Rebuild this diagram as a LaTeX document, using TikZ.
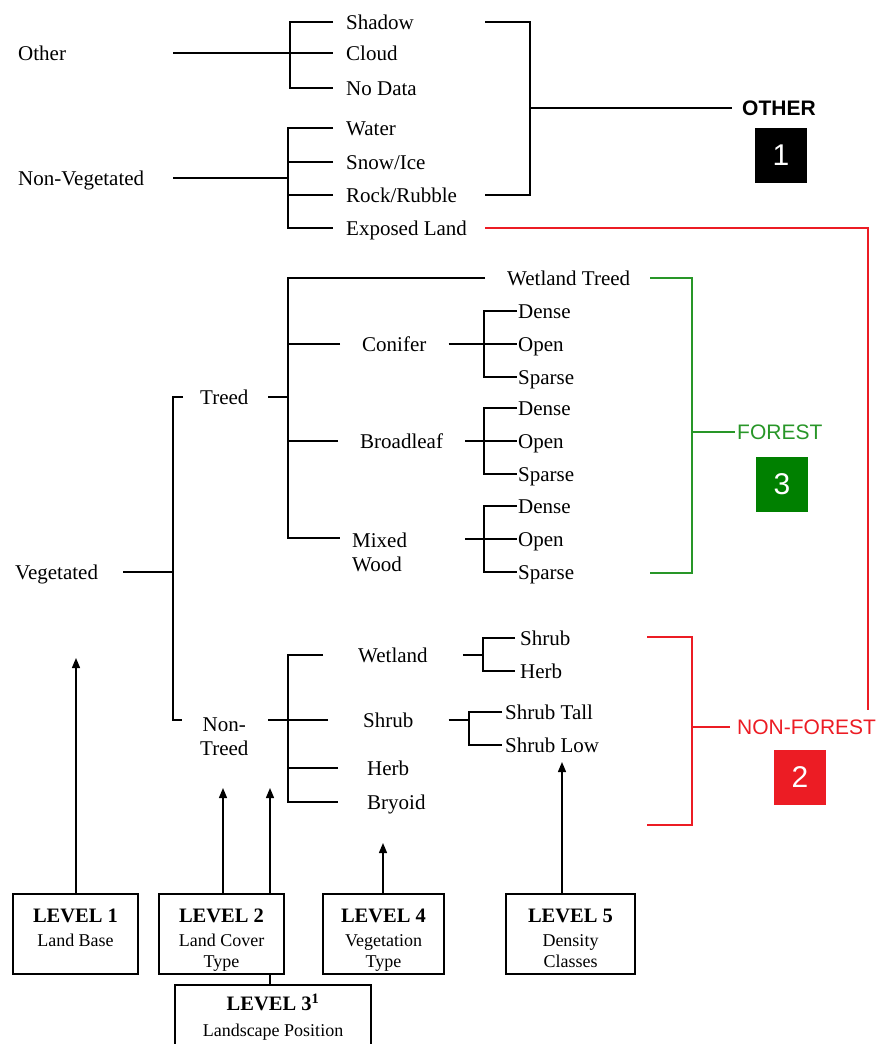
\documentclass[tikz,border=0pt]{standalone}
\usepackage{fontspec}
\setmainfont{Liberation Serif}
\setsansfont{Liberation Sans}
\usetikzlibrary{arrows.meta,calc}
\definecolor{fgreen}{RGB}{0,128,0}
\definecolor{fgreenline}{RGB}{40,150,40}
\definecolor{nfred}{RGB}{236,28,36}
\tikzset{
 branch/.style={line width=1.4pt},
 bigbr/.style={line width=2.8pt},
 grnln/.style={draw=fgreenline,line width=2pt},
 redln/.style={draw=nfred,line width=2pt},
 uparr/.style={line width=1.4pt,-{Triangle[length=10pt,width=8pt]}},
 lbl/.style={anchor=west,inner sep=0,text height=19pt,text depth=5pt,font=\fontsize{21}{24}\selectfont},
 leaf/.style={anchor=west,inner ysep=0,inner xsep=#1,text height=19pt,text depth=5pt,font=\fontsize{21}{24}\selectfont},
 leaf/.default=13pt,
 leaftwo/.style={anchor=west,inner sep=0,font=\fontsize{21}{24}\selectfont},
 cls/.style={anchor=west,inner xsep=#1,inner ysep=9pt,text height=15.5pt,text depth=0pt,font=\sffamily\fontsize{21}{24}\selectfont},
 numbox/.style={fill=#1,text=white,minimum width=52pt,minimum height=55pt,inner sep=0,font=\sffamily\fontsize{30}{30}\selectfont},
 lvbox/.style={draw,line width=1.6pt,anchor=north,inner xsep=3pt,inner ysep=0pt,align=center,font=\fontsize{18}{21}\selectfont}
}
\begin{document}
\begin{tikzpicture}[x=1pt,y=-1pt]
\path[use as bounding box,clip] (0,0) rectangle (890,1044);
% other
\node[lbl] (othr) at (18,53) {Other};
\node[leaf] (shadow) at (333,22) {Shadow};
\node[leaf] (cloud) at (333,53) {Cloud};
\node[leaf] (nodata) at (333,88) {No Data};
\coordinate (othr-a) at (173,53);
\coordinate (othr-s) at (290,53);
\draw[branch] (shadow.west) -| (othr-s) |- (nodata.west);
\draw[branch] (othr-a) -- (cloud.west);
% non-vegetated
\node[lbl] (nonveg) at (18,178) {Non-Vegetated};
\node[leaf] (water) at (333,128) {Water};
\node[leaf] (snow) at (333,162) {Snow/Ice};
\node[leaf] (rock) at (333,195) {Rock/Rubble};
\node[leaf] (exland) at (333,228) {Exposed Land};
\coordinate (nveg-a) at (173,178);
\coordinate (nveg-s) at (288,178);
\draw[branch] (water.west) -| (nveg-s) |- (exland.west);
\draw[branch] (snow.west) -- (snow.west -| nveg-s);
\draw[branch] (rock.west) -- (rock.west -| nveg-s);
\draw[branch] (nveg-a) -- (nveg-s);
% class 1
\node[cls=10pt] (othlbl) at (732,108) {\bfseries OTHER};
\node[numbox=black] (nb1) at (781,155) {1};
\coordinate (oth-t) at (485,22);
\coordinate (oth-b) at (485,195);
\coordinate (oth-m) at (530,108);
\draw[bigbr] (oth-t) -| (oth-m) |- (oth-b);
\draw[bigbr] (oth-m) -- (othlbl.west);
% vegetated
\node[lbl] (veg) at (15,572) {Vegetated};
\node[leaf=17pt] (treed) at (183,397) {Treed};
\node[leaftwo,align=center] (nontreed) at (200,737) {Non-\\Treed};
\coordinate (veg-a) at (123,572);
\coordinate (veg-s) at (173,572);
\coordinate (ntr-t) at (182,720);
\draw[branch] (veg-a) -- (veg-s);
\draw[branch] (treed.west) -| (veg-s) |- (ntr-t);
% treed
\node[leaf=22pt] (wtreed) at (485,278) {Wetland Treed};
\node[leaf=22pt] (conifer) at (340,344) {Conifer};
\node[leaf=22pt] (broad) at (338,441) {Broadleaf};
\node[leaftwo,align=left] (mixed) at (352,552) {Mixed\\Wood};
\coordinate (tr-a) at (268,397);
\coordinate (tr-s) at (288,397);
\coordinate (mix-t) at (340,538);
\draw[branch] (tr-a) -- (tr-s);
\draw[branch] (wtreed.west) -| (tr-s) |- (mix-t);
\draw[branch] (conifer.west) -- (conifer.west -| tr-s);
\draw[branch] (broad.west) -- (broad.west -| tr-s);
% conifer density
\node[leaf=1pt] (cdense) at (517,311) {Dense};
\node[leaf=1pt] (copen) at (517,344) {Open};
\node[leaf=1pt] (csparse) at (517,377) {Sparse};
\coordinate (con-s) at (484,344);
\draw[branch] (conifer.east) -- (con-s) -- (copen.west);
\draw[branch] (cdense.west) -| (con-s) |- (csparse.west);
% broadleaf density
\node[leaf=1pt] (bdense) at (517,408) {Dense};
\node[leaf=1pt] (bopen) at (517,441) {Open};
\node[leaf=1pt] (bsparse) at (517,474) {Sparse};
\coordinate (brd-s) at (484,441);
\draw[branch] (broad.east) -- (brd-s) -- (bopen.west);
\draw[branch] (bdense.west) -| (brd-s) |- (bsparse.west);
% mixed density
\node[leaf=1pt] (mdense) at (517,506) {Dense};
\node[leaf=1pt] (mopen) at (517,539) {Open};
\node[leaf=1pt] (msparse) at (517,572) {Sparse};
\coordinate (mix-a) at (465,539);
\coordinate (mix-s) at (484,539);
\draw[branch] (mix-a) -- (mix-s) -- (mopen.west);
\draw[branch] (mdense.west) -| (mix-s) |- (msparse.west);
% class 3
\node[cls=2pt,text=fgreenline] (frlbl) at (735,432) {FOREST};
\node[numbox=fgreen] (nb3) at (782,484) {3};
\coordinate (fr-t) at (650,278);
\coordinate (fr-b) at (650,573);
\coordinate (fr-m) at (692,432);
\draw[grnln] (fr-t) -| (fr-m) |- (fr-b);
\draw[grnln] (fr-m) -- (frlbl.west);
% non-treed
\node[leaf=35pt] (wetland) at (323,655) {Wetland};
\node[leaf=35pt] (shrub) at (328,720) {Shrub};
\node[leaf=29pt] (herb) at (338,768) {Herb};
\node[leaf=29pt] (bryoid) at (338,802) {Bryoid};
\coordinate (nt-a) at (268,720);
\coordinate (nt-s) at (288,720);
\draw[branch] (nt-a) -- (nt-s);
\draw[branch] (wetland.west) -| (nt-s) |- (bryoid.west);
\draw[branch] (shrub.west) -- (shrub.west -| nt-s);
\draw[branch] (herb.west) -- (herb.west -| nt-s);
% wetland / shrub density
\node[leaf=5pt] (wshrub) at (515,638) {Shrub};
\node[leaf=5pt] (wherb) at (515,671) {Herb};
\coordinate (wet-s) at (483,655);
\draw[branch] (wetland.east) -- (wet-s);
\draw[branch] (wshrub.west) -| (wet-s) |- (wherb.west);
\node[leaf=3pt] (stall) at (502,712) {Shrub Tall};
\node[leaf=3pt] (slow) at (502,745) {Shrub Low};
\coordinate (shb-s) at (469,720);
\draw[branch] (shrub.east) -- (shb-s);
\draw[branch] (stall.west) -| (shb-s) |- (slow.west);
% class 2
\node[cls=7pt,text=nfred] (nflbl) at (730,727) {NON-FOREST};
\node[numbox=nfred] (nb2) at (800,777) {2};
\coordinate (nf-t) at (647,637);
\coordinate (nf-b) at (647,825);
\coordinate (nf-m) at (692,727);
\draw[redln] (nf-t) -| (nf-m) |- (nf-b);
\draw[redln] (nf-m) -- (nflbl.west);
\coordinate (exl-r) at (485,228);
\coordinate (red-c) at (868,228);
\draw[redln] (exl-r) -- (red-c) -- (red-c |- nflbl.north);
% levels
\node[lvbox,minimum width=125pt] (lv1) at (75.5,893) {{\rule{0pt}{29pt}\fontsize{20.5}{24}\selectfont\bfseries LEVEL 1}\\[3pt]Land Base\\\strut};
\node[lvbox,minimum width=125pt] (lv2) at (221.5,893) {{\rule{0pt}{29pt}\fontsize{20.5}{24}\selectfont\bfseries LEVEL 2}\\[3pt]Land Cover\\Type\strut};
\node[lvbox,minimum width=121pt] (lv4) at (383.5,893) {{\rule{0pt}{29pt}\fontsize{20.5}{24}\selectfont\bfseries LEVEL 4}\\[3pt]Vegetation\\Type\strut};
\node[lvbox,minimum width=129pt] (lv5) at (570.5,893) {{\rule{0pt}{29pt}\fontsize{20.5}{24}\selectfont\bfseries LEVEL 5}\\[3pt]Density\\Classes\strut};
\node[lvbox,minimum width=196pt] (lv3) at (273,984) {{\rule{0pt}{26pt}\fontsize{20.5}{24}\selectfont\bfseries LEVEL 3\textsuperscript{1}}\\[5pt]Landscape Position\\\strut\\\strut};
\coordinate (a1) at (76,658);
\coordinate (a2) at (223,788);
\coordinate (a2b) at (270,788);
\coordinate (a4) at (383,843);
\coordinate (a5) at (562,762);
\draw[uparr] (lv1.north -| a1) -- (a1);
\draw[uparr] (lv2.north -| a2) -- (a2);
\draw[uparr] (lv2.north -| a2b) -- (a2b);
\draw[uparr] (lv4.north -| a4) -- (a4);
\draw[uparr] (lv5.north -| a5) -- (a5);
\draw[branch] (lv2.south -| a2b) -- (lv3.north -| a2b);
\end{tikzpicture}
\end{document}
